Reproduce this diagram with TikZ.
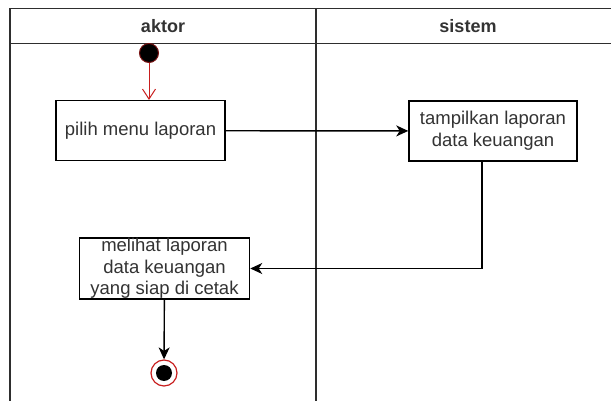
\documentclass[tikz,border=0pt]{standalone}
\usepackage{fontspec}
\setmainfont{Liberation Sans}
\usetikzlibrary{positioning,arrows.meta}
\definecolor{LaneLine}{HTML}{2E2E2E}
\definecolor{StateRed}{HTML}{C81E1E}
\definecolor{LabelGray}{HTML}{333333}

\begin{document}
\begin{tikzpicture}[x=1pt,y=-1pt,
  every node/.style={font=\fontsize{18.5}{21.7}\selectfont, text=LabelGray},
  actbox/.style={draw,line width=1.5pt,fill=white,minimum width=169pt,minimum height=60pt,inner sep=0pt,align=center},
  flow/.style={-{Stealth[length=12pt,width=11pt,inset=3.5pt]},line width=1.4pt}]
\useasboundingbox (0,0) rectangle (611,401);
% swimlanes
\draw[LaneLine,line width=1.5pt] (10,401) |- (611,8.5);
\draw[LaneLine,line width=1.5pt] (10,43.3) -- (611,43.3);
\draw[LaneLine,line width=1.5pt] (316,8.5) -- (316,401);
\node[font=\bfseries\fontsize{18}{21.7}\selectfont] (aktor) at (163,26) {aktor};
\node[font=\bfseries\fontsize{18}{21.7}\selectfont] (sistem) at (468,26) {sistem};

% states and actions
\node[circle,fill=black,draw=StateRed!60!black,line width=1pt,minimum size=19pt,inner sep=0pt] (mulai) at (149,53) {};
\node[actbox] (pilih) at (140.5,130.7) {pilih menu laporan};
\node[actbox,minimum width=168pt] (tampil) at (493,131) {tampilkan laporan\\data keuangan};
\node[actbox,minimum width=170pt,minimum height=61pt] (lihat) at (164.5,268.5) {};
\node[align=center,inner sep=0pt] (lihatlabel) at (lihat.center) {melihat laporan\\data keuangan\\yang siap di cetak};
\node[circle,draw=StateRed,fill=white,line width=1.2pt,minimum size=26pt,inner sep=0pt] (selesai) at (164,373) {};
\node[circle,fill=black,minimum size=16pt,inner sep=0pt] (selesaidot) at (selesai) {};

% transitions
\draw[StateRed,line width=1pt,-{Straight Barb[length=10pt,width=13pt]}] (mulai) -- (mulai |- pilih.north);
\draw[flow] (pilih) -- (tampil);
\draw[flow] ([xshift=-11pt]tampil.south) |- (lihat.east);
\draw[flow] (lihat) -- (selesai);
\end{tikzpicture}
\end{document}
